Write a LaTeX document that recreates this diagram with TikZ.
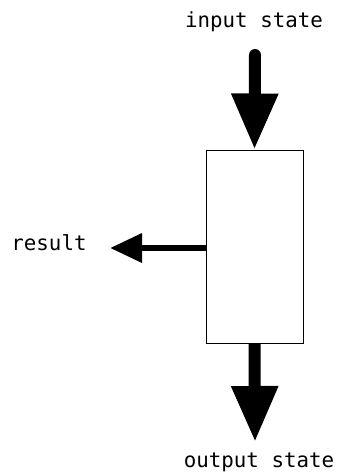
\documentclass[tikz,border=0pt]{standalone}
\usepackage{fontspec}
\setmonofont{DejaVu Sans Mono}
\usetikzlibrary{arrows.meta}
\begin{document}
\begin{tikzpicture}[x=1pt,y=-1pt,
  label/.style={font=\ttfamily\fontsize{20.8}{24}\selectfont, inner sep=0pt, anchor=base},
  block/.style={draw=black, line width=1pt, fill=white, minimum width=97pt, minimum height=193pt, inner sep=0pt},
  bigflow/.style={line width=12pt, -{Triangle[length=56pt, width=44pt]}},
  sideflow/.style={line width=6.5pt, -{Triangle[length=32pt, width=28pt]}}
]
\useasboundingbox (0,0) rectangle (339,472);
% the process box
\node[block] (proc) at (254.5,246.5) {};
% labels
\node[label] (in) at (254,27) {input state};
\node[label] (out) at (259,467) {output state};
\node[label] (res) at (49,250) {result};
% arrow end points
\coordinate (inStart) at (255,55);
\coordinate (outTip) at (255,442);
\coordinate (resTip) at (110,248);
% connectors
\draw[bigflow, line cap=round] (inStart) -- (proc.north);
\draw[bigflow] (proc.south) -- (outTip);
\draw[sideflow] (proc.west |- resTip) -- (resTip);
\end{tikzpicture}
\end{document}
